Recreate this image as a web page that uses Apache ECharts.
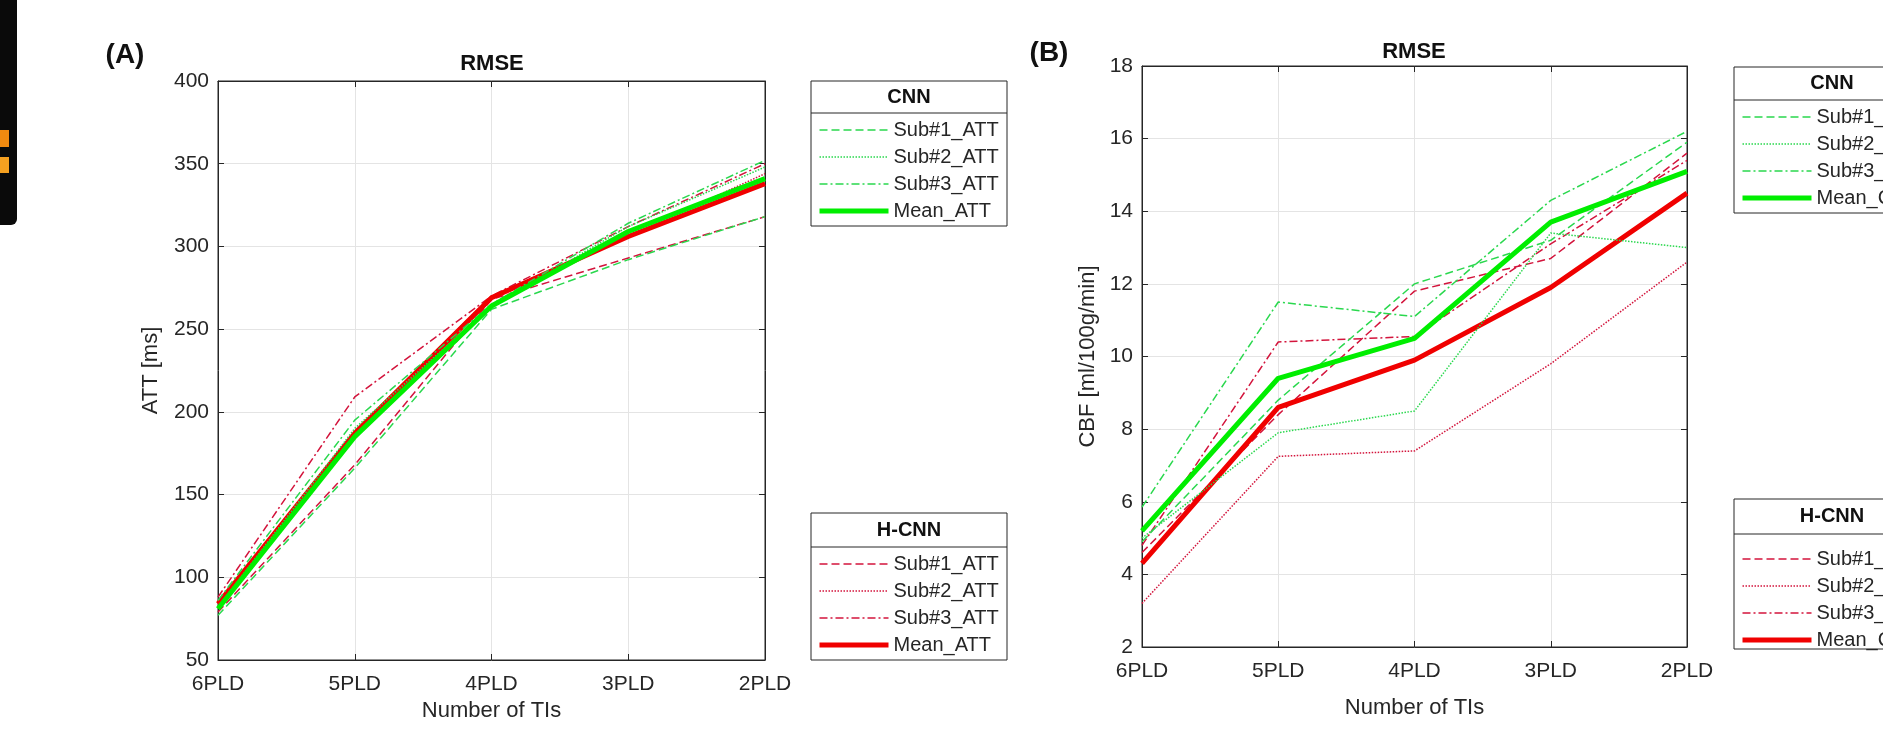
<!DOCTYPE html>
<html>
<head>
<meta charset="utf-8">
<script src="https://cdn.jsdelivr.net/npm/echarts@6/dist/echarts.min.js"></script>
<style>
  html, body { margin: 0; padding: 0; background: #fff; }
  #chart { width: 1883px; height: 732px; }
</style>
</head>
<body>
<div id="chart"></div>
<script>
// categories (x axis)
const categories = ["6PLD", "5PLD", "4PLD", "3PLD", "2PLD"];

// (A) ATT RMSE [ms]
const attCnnSub1 = [77, 166, 262, 292, 318];
const attCnnSub2 = [82, 190, 264, 312, 348];
const attCnnSub3 = [86, 195, 265, 314, 352];
const attCnnMean = [81, 185, 264, 309, 341];
const attHcnnSub1 = [79, 168, 268, 293, 318];
const attHcnnSub2 = [84, 188, 270, 306, 344];
const attHcnnSub3 = [88, 209, 270, 312, 350];
const attHcnnMean = [84, 187, 269, 306, 338];

// (B) CBF RMSE [ml/100g/min]
const cbfCnnSub1 = [4.9, 8.8, 12.0, 13.2, 15.9];
const cbfCnnSub2 = [5.0, 7.9, 8.5, 13.4, 13.0];
const cbfCnnSub3 = [5.85, 11.5, 11.1, 14.3, 16.2];
const cbfCnnMean = [5.2, 9.4, 10.5, 13.7, 15.1];
const cbfHcnnSub1 = [4.6, 8.4, 11.8, 12.7, 15.6];
const cbfHcnnSub2 = [3.2, 7.25, 7.4, 9.8, 12.6];
const cbfHcnnSub3 = [4.8, 10.4, 10.55, 13.1, 15.4];
const cbfHcnnMean = [4.3, 8.6, 9.9, 11.9, 14.5];

// axis ticks
const attTicks = { min: 50, max: 400, interval: 50 };
const cbfTicks = { min: 2, max: 18, interval: 2 };

const FONT = "'Liberation Sans', Arial, sans-serif";
const AXC = "#262626";
const GREEN = "#00ee00";
const RED = "#f00000";
const GREEN_T = "#2ad84e";
const RED_T = "#d3143c";
const DASH = [8, 4];
const DOT = [1.5, 1.5];
const DASHDOT = [8, 3, 2, 3];

function line(name, data, color, dash, width, axis, z) {
  return {
    name: name,
    type: "line",
    data: data,
    xAxisIndex: axis,
    yAxisIndex: axis,
    symbol: "none",
    smooth: false,
    z: z,
    lineStyle: { color: color, width: width, type: dash },
    itemStyle: { color: color },
    emphasis: { disabled: true }
  };
}

function bottomAxis(grid, name, gap) {
  return {
    gridIndex: grid, type: "category", position: "bottom", boundaryGap: false,
    data: categories,
    axisLine: { lineStyle: { color: AXC, width: 1 } },
    axisTick: { inside: true, length: 6, lineStyle: { color: AXC } },
    axisLabel: { interval: 0, fontSize: 21, color: AXC, fontFamily: FONT, margin: 14 },
    splitLine: { show: true, lineStyle: { color: "#e4e4e4" } },
    name: name, nameLocation: "middle", nameGap: gap,
    nameTextStyle: { fontSize: 22, color: AXC, fontFamily: FONT }
  };
}
function topAxis(grid) {
  return {
    gridIndex: grid, type: "category", position: "top", boundaryGap: false,
    data: categories,
    axisLine: { lineStyle: { color: AXC, width: 1 } },
    axisTick: { inside: true, length: 6, lineStyle: { color: AXC } },
    axisLabel: { show: false }, splitLine: { show: false }
  };
}
function leftAxis(grid, t, name, gap) {
  return {
    gridIndex: grid, type: "value", position: "left",
    min: t.min, max: t.max, interval: t.interval,
    axisLine: { show: true, lineStyle: { color: AXC, width: 1 } },
    axisTick: { show: true, inside: true, length: 6, lineStyle: { color: AXC } },
    axisLabel: { fontSize: 21, color: AXC, fontFamily: FONT, margin: 9 },
    splitLine: { show: true, lineStyle: { color: "#e4e4e4" } },
    name: name, nameLocation: "middle", nameGap: gap,
    nameTextStyle: { fontSize: 22, color: AXC, fontFamily: FONT }
  };
}
function rightAxis(grid, t) {
  return {
    gridIndex: grid, type: "value", position: "right",
    min: t.min, max: t.max, interval: t.interval,
    axisLine: { show: true, lineStyle: { color: AXC, width: 1 } },
    axisTick: { show: true, inside: true, length: 6, lineStyle: { color: AXC } },
    axisLabel: { show: false }, splitLine: { show: false }
  };
}

function legend(names, left, top) {
  return {
    data: names, orient: "vertical", left: left, top: top, padding: 0,
    itemWidth: 69, itemHeight: 14, itemGap: 7, selectedMode: false,
    lineStyle: { width: "inherit" },
    // line series always put a marker in the legend icon; hide it
    itemStyle: { opacity: 0, color: "rgba(0,0,0,0)", borderWidth: 0 },
    formatter: function (n) { return n.split("|")[1]; },
    textStyle: { fontSize: 20, color: AXC, fontFamily: FONT }
  };
}

function box(x, y, w, h, sep, title) {
  return [
    { type: "rect", shape: { x: x, y: y, width: w, height: h },
      style: { fill: "#fff", stroke: AXC, lineWidth: 1 }, z: -1 },
    { type: "line", shape: { x1: x, y1: sep, x2: x + w, y2: sep },
      style: { stroke: AXC, lineWidth: 1 } },
    { type: "text", x: x + w / 2, y: (y + sep) / 2,
      style: { text: title, font: "bold 20px " + FONT, fill: "#111", align: "center", verticalAlign: "middle" } }
  ];
}

const attCnnNames = ["aC|Sub#1_ATT", "aC|Sub#2_ATT", "aC|Sub#3_ATT", "aC|Mean_ATT"];
const attHNames = ["aH|Sub#1_ATT", "aH|Sub#2_ATT", "aH|Sub#3_ATT", "aH|Mean_ATT"];
const cbfCnnNames = ["bC|Sub#1_CBF", "bC|Sub#2_CBF", "bC|Sub#3_CBF", "bC|Mean_CBF"];
const cbfHNames = ["bH|Sub#1_CBF", "bH|Sub#2_CBF", "bH|Sub#3_CBF", "bH|Mean_CBF"];

const option = {
  animation: false,
  backgroundColor: "#fff",
  grid: [
    { left: 218, top: 81, width: 547, height: 579, show: true, borderColor: AXC, borderWidth: 1, backgroundColor: "#fff" },
    { left: 1142, top: 66, width: 545, height: 581, show: true, borderColor: AXC, borderWidth: 1, backgroundColor: "#fff" }
  ],
  xAxis: [bottomAxis(0, "Number of TIs", 37), topAxis(0), bottomAxis(1, "Number of TIs", 50), topAxis(1)],
  yAxis: [leftAxis(0, attTicks, "ATT [ms]", 56), rightAxis(0, attTicks), leftAxis(1, cbfTicks, "CBF [ml/100g/min]", 43), rightAxis(1, cbfTicks)],
  legend: [
    legend(attCnnNames, 817, 120),
    legend(attHNames, 817, 554),
    legend(cbfCnnNames, 1740, 107),
    legend(cbfHNames, 1740, 549)
  ],
  series: [
    line(attHNames[0], attHcnnSub1, RED_T, DASH, 1.5, 0, 3),
    line(attHNames[1], attHcnnSub2, RED_T, DOT, 1.5, 0, 3),
    line(attHNames[2], attHcnnSub3, RED_T, DASHDOT, 1.5, 0, 3),
    line(attHNames[3], attHcnnMean, RED, "solid", 5, 0, 4),
    line(attCnnNames[0], attCnnSub1, GREEN_T, DASH, 1.5, 0, 5),
    line(attCnnNames[1], attCnnSub2, GREEN_T, DOT, 1.5, 0, 5),
    line(attCnnNames[2], attCnnSub3, GREEN_T, DASHDOT, 1.5, 0, 5),
    line(attCnnNames[3], attCnnMean, GREEN, "solid", 5, 0, 6),

    line(cbfHNames[0], cbfHcnnSub1, RED_T, DASH, 1.5, 2, 3),
    line(cbfHNames[1], cbfHcnnSub2, RED_T, DOT, 1.5, 2, 3),
    line(cbfHNames[2], cbfHcnnSub3, RED_T, DASHDOT, 1.5, 2, 3),
    line(cbfHNames[3], cbfHcnnMean, RED, "solid", 5, 2, 4),
    line(cbfCnnNames[0], cbfCnnSub1, GREEN_T, DASH, 1.5, 2, 5),
    line(cbfCnnNames[1], cbfCnnSub2, GREEN_T, DOT, 1.5, 2, 5),
    line(cbfCnnNames[2], cbfCnnSub3, GREEN_T, DASHDOT, 1.5, 2, 5),
    line(cbfCnnNames[3], cbfCnnMean, GREEN, "solid", 5, 2, 6)
  ],
  graphic: [].concat(
    // dark strip at the left edge of the scan
    [
      { type: "rect", shape: { x: 0, y: 0, width: 17, height: 225, r: [0, 0, 6, 0] }, style: { fill: "#0a0a0a" } },
      { type: "rect", shape: { x: 0, y: 130, width: 9, height: 17 }, style: { fill: "#f08a10" } },
      { type: "rect", shape: { x: 0, y: 157, width: 9, height: 16 }, style: { fill: "#f5a020" } }
    ],
    [
      { type: "text", x: 125, y: 55, style: { text: "(A)", font: "bold 28px " + FONT, fill: "#111", align: "center", verticalAlign: "middle" } },
      { type: "text", x: 1049, y: 53, style: { text: "(B)", font: "bold 28px " + FONT, fill: "#111", align: "center", verticalAlign: "middle" } },
      { type: "text", x: 492, y: 64, style: { text: "RMSE", font: "bold 22px " + FONT, fill: "#111", align: "center", verticalAlign: "middle" } },
      { type: "text", x: 1414, y: 52, style: { text: "RMSE", font: "bold 22px " + FONT, fill: "#111", align: "center", verticalAlign: "middle" } }
    ],
    box(811, 81, 196, 145, 113, "CNN"),
    box(811, 513, 196, 147, 547, "H-CNN"),
    box(1734, 67, 196, 146, 100, "CNN"),
    box(1734, 499, 196, 150, 534, "H-CNN")
  )
};

const chart = echarts.init(document.getElementById("chart"));
chart.setOption(option);
</script>
</body>
</html>
